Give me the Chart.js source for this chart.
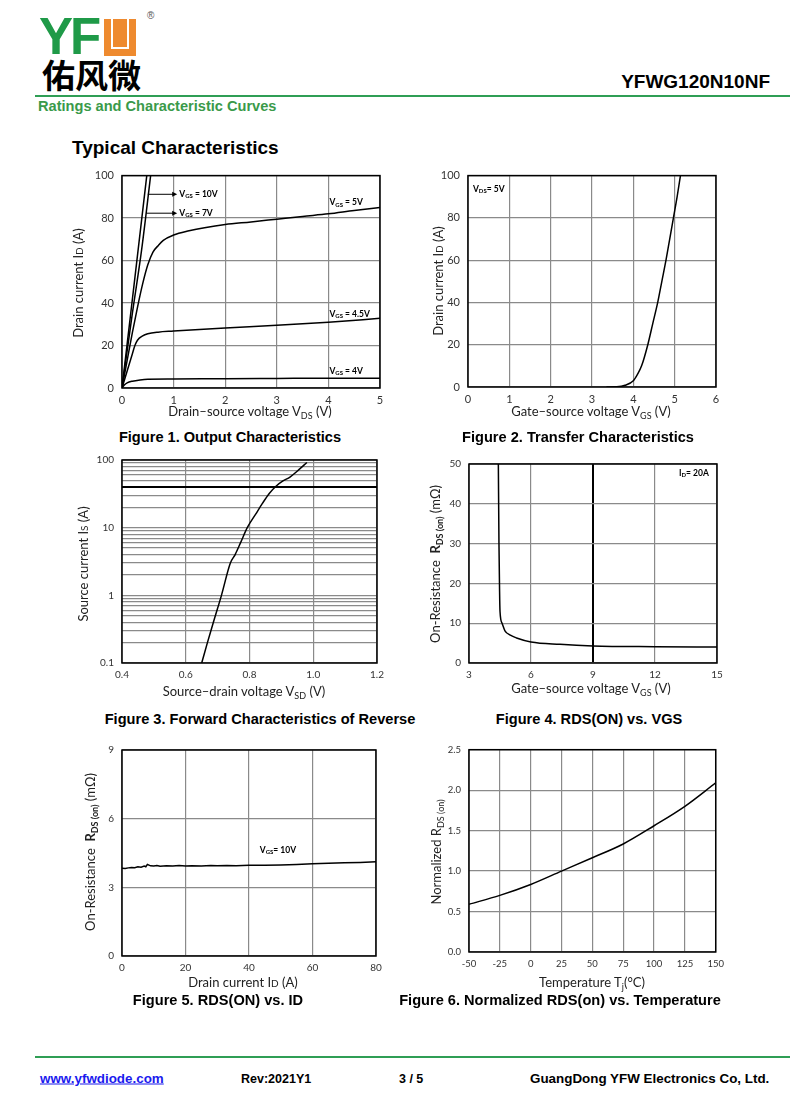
<!DOCTYPE html>
<html>
<head>
<meta charset="utf-8">
<script src="https://cdn.jsdelivr.net/npm/chart.js@4.4.1/dist/chart.umd.min.js"></script>
<style>
  body { margin: 0; background: #fff; }
  #page { position: relative; width: 800px; height: 1118px; overflow: hidden; font-family: "Liberation Sans", Arial, sans-serif; color: #000; }
  .abs { position: absolute; white-space: nowrap; }
  canvas { position: absolute; }
  .cap { font-weight: bold; font-size: 14.6px; transform: translate(-50%, -50%); }
  .ax { font-family: Lato, "Open Sans", sans-serif; font-size: 13px; color: #222; transform: translate(-50%, -50%); }
  .ax.rot { transform: translate(-50%, -50%) rotate(-90deg); }
  .ax sub { font-size: 9px; vertical-align: -3px; line-height: 0; }
  .ax .sc { font-size: 10px; }
  .foot { font-weight: bold; font-size: 13.4px; transform: translateY(-50%); }
</style>
</head>
<body>
<div id="page">
  <!-- header -->
  <div class="abs" style="left:39px;top:11px;font:bold 51px 'Liberation Sans';color:#1f9a48;letter-spacing:-3px;line-height:52px">YF</div>
  <div class="abs" style="left:104px;top:19px;width:32px;height:37px;background:#ee8a2f"></div>
  <div class="abs" style="left:111px;top:19px;width:14px;height:28px;border:2px solid #fff;border-top:none"></div>
  <div class="abs" style="left:147px;top:10px;font-size:10px;color:#555">®</div>
  <div class="abs" style="left:42px;top:55px;font:bold 33px 'Noto Sans CJK SC';line-height:38px">佑风微</div>
  <div class="abs" style="right:30px;top:71px;font-weight:bold;font-size:19px">YFWG120N10NF</div>
  <div class="abs" style="left:35px;top:95px;width:755px;height:2px;background:#2f9e55"></div>
  <div class="abs" style="left:38px;top:98px;font-weight:bold;font-size:14.6px;color:#3a9a4a">Ratings and Characteristic Curves</div>
  <div class="abs" style="left:72px;top:137px;font-weight:bold;font-size:19px">Typical Characteristics</div>

  <canvas id="fig1"></canvas>
  <canvas id="fig2"></canvas>
  <canvas id="fig3"></canvas>
  <canvas id="fig4"></canvas>
  <canvas id="fig5"></canvas>
  <canvas id="fig6"></canvas>

  <!-- axis titles -->
  <div class="abs ax rot" style="left:78px;top:283px">Drain current I<span class="sc">D</span> (A)</div>
  <div class="abs ax" style="left:250px;top:411px">Drain–source voltage V<sub>DS</sub> (V)</div>
  <div class="abs ax rot" style="left:438px;top:281px">Drain current I<span class="sc">D</span> (A)</div>
  <div class="abs ax" style="left:591px;top:411px">Gate–source voltage V<sub>GS</sub> (V)</div>
  <div class="abs ax rot" style="left:83px;top:564px">Source current I<span class="sc">S</span> (A)</div>
  <div class="abs ax" style="left:244px;top:691px">Source–drain voltage V<sub>SD</sub> (V)</div>
  <div class="abs ax rot" style="left:435px;top:564px">On-Resistance&nbsp; <b>R</b><sub><b>DS (on)</b></sub> (mΩ)</div>
  <div class="abs ax" style="left:591px;top:688px">Gate–source voltage V<sub>GS</sub> (V)</div>
  <div class="abs ax rot" style="left:90px;top:852px">On-Resistance&nbsp; <b>R</b><sub><b>DS (on)</b></sub> (mΩ)</div>
  <div class="abs ax" style="left:243px;top:982px">Drain current I<span class="sc">D</span> (A)</div>
  <div class="abs ax rot" style="left:436px;top:852px">Normalized R<sub>DS (on)</sub></div>
  <div class="abs ax" style="left:592px;top:982px">Temperature T<sub>j</sub>(°C)</div>

  <!-- captions -->
  <div class="abs cap" style="left:230px;top:437px">Figure 1. Output Characteristics</div>
  <div class="abs cap" style="left:578px;top:437px">Figure 2. Transfer Characteristics</div>
  <div class="abs cap" style="left:260px;top:719px">Figure 3. Forward Characteristics of Reverse</div>
  <div class="abs cap" style="left:589px;top:719px">Figure 4. RDS(ON) vs. VGS</div>
  <div class="abs cap" style="left:218px;top:1000px">Figure 5. RDS(ON) vs. ID</div>
  <div class="abs cap" style="left:560px;top:1000px">Figure 6. Normalized RDS(on) vs. Temperature</div>

  <!-- footer -->
  <div class="abs" style="left:35px;top:1056px;width:755px;height:2px;background:#2f9e55"></div>
  <div class="abs foot" style="left:40px;top:1078px;color:#1a1aee;text-decoration:underline">www.yfwdiode.com</div>
  <div class="abs foot" style="left:241px;top:1079px;font-size:12.5px">Rev:2021Y1</div>
  <div class="abs foot" style="left:399px;top:1079px;font-size:12.5px">3 / 5</div>
  <div class="abs foot" style="left:530px;top:1078px">GuangDong YFW Electronics Co, Ltd.</div>
</div>

<script>
// Figure 1 - output characteristics (VDS in V, ID in A)
const f1Vgs10V = [0, 0.25, 0.48];
const f1Vgs10I = [0, 52, 100];
const f1Vgs7V = [0, 0.2, 0.38, 0.555];
const f1Vgs7I = [0, 35, 65, 100];
const f1Vgs5V = [0, 0.1, 0.2, 0.3, 0.4, 0.5, 0.6, 0.7, 0.8, 1.0, 1.3, 1.6, 2, 2.5, 3, 3.5, 4, 4.5, 5];
const f1Vgs5I = [0, 13, 26, 38, 49, 58, 64, 67, 69.5, 72, 74, 75.5, 77, 78.2, 79.5, 80.8, 82, 83.6, 85];
const f1Vgs45V = [0, 0.1, 0.2, 0.25, 0.3, 0.4, 0.5, 0.7, 1, 1.5, 2, 3, 4, 5];
const f1Vgs45I = [0, 8, 16, 20, 22.5, 24.5, 25.5, 26.3, 26.8, 27.6, 28.3, 29.5, 31, 32.8];
const f1Vgs4V = [0, 0.05, 0.1, 0.2, 0.35, 0.5, 1, 2, 3, 4, 5];
const f1Vgs4I = [0, 1.5, 2.4, 3.2, 3.8, 4.1, 4.2, 4.4, 4.5, 4.6, 4.6];
const f1XTicks = [0, 1, 2, 3, 4, 5];
const f1YTicks = [0, 20, 40, 60, 80, 100];

// Figure 2 - transfer characteristics (VGS in V, ID in A)
const f2Vgs = [3.35, 3.6, 3.8, 4.0, 4.1, 4.2, 4.35, 4.47, 4.59, 4.69, 4.79, 4.88, 4.97, 5.06, 5.14];
const f2Id = [0, 0.1, 0.8, 3, 6, 10, 20, 30, 40, 50, 60, 70, 80, 90, 100];
const f2XTicks = [0, 1, 2, 3, 4, 5, 6];
const f2YTicks = [0, 20, 40, 60, 80, 100];

// Figure 3 - body diode forward (VSD in V, IS in A, log)
const f3Vsd = [0.65, 0.668, 0.69, 0.712, 0.74, 0.755, 0.772, 0.793, 0.82, 0.841, 0.862, 0.883, 0.905, 0.927, 0.955, 0.98];
const f3Is = [0.1, 0.2, 0.45, 1, 3, 4, 6, 10, 16, 23, 32, 41, 49, 56, 72, 92];
const f3XTicks = [0.4, 0.6, 0.8, 1.0, 1.2];
const f3YLabels = [0.1, 1, 10, 100];

// Figure 4 - RDS(on) vs VGS (V, mOhm)
const f4Vgs = [4.42, 4.45, 4.48, 4.5, 4.6, 4.74, 5.0, 5.3, 6.0, 7.4, 9, 12, 15];
const f4Rds = [50, 30, 18, 13, 10, 8.1, 7, 6.3, 5.3, 4.7, 4.3, 4.1, 4.0];
const f4XTicks = [3, 6, 9, 12, 15];
const f4YTicks = [0, 10, 20, 30, 40, 50];

// Figure 5 - RDS(on) vs ID (A, mOhm)
const f5Id = [0, 1, 2, 3, 4, 5, 6, 7, 7.5, 8, 8.5, 9, 10, 11, 12, 14, 16, 18, 20, 22, 25, 28, 30, 33, 36, 40, 45, 50, 55, 60, 65, 70, 75, 80];
const f5Rds = [3.83, 3.82, 3.85, 3.87, 3.86, 3.9, 3.88, 3.93, 3.9, 4.0, 3.97, 3.94, 3.93, 3.95, 3.92, 3.94, 3.93, 3.95, 3.93, 3.94, 3.93, 3.95, 3.94, 3.95, 3.94, 3.96, 3.97, 3.98, 4.0, 4.03, 4.05, 4.07, 4.09, 4.12];
const f5XTicks = [0, 20, 40, 60, 80];
const f5YTicks = [0, 3, 6, 9];

// Figure 6 - normalized RDS(on) vs Tj
const f6Temp = [-50, -25, 0, 25, 50, 75, 100, 125, 150];
const f6Norm = [0.59, 0.70, 0.835, 1.0, 1.165, 1.335, 1.56, 1.8, 2.09];
const f6XTicks = [-50, -25, 0, 25, 50, 75, 100, 125, 150];
const f6YTicks = [0, 0.5, 1.0, 1.5, 2.0, 2.5];

const GRID = "#8a8a8a";
const TICK = "#333";
Chart.defaults.font.family = "Lato, 'Open Sans', sans-serif";
Chart.defaults.animation = false;

function pts(xs, ys) {
  return xs.map((x, i) => ({ x: x, y: ys[i] }));
}

function curve(xs, ys, extra) {
  return Object.assign({
    data: pts(xs, ys),
    showLine: true,
    borderColor: "#000",
    borderWidth: 1.5,
    pointRadius: 0,
    cubicInterpolationMode: "monotone"
  }, extra || {});
}

// black frame round the plot area
const framePlugin = {
  id: "frame",
  beforeDatasetsDraw(chart) {
    const a = chart.chartArea, ctx = chart.ctx;
    ctx.save();
    ctx.strokeStyle = "#000";
    ctx.lineWidth = 1.5;
    ctx.strokeRect(a.left, a.top, a.right - a.left, a.bottom - a.top);
    ctx.restore();
  }
};

// small bold labels like "VGS = 5V", placed in data units
const notesPlugin = {
  id: "notes",
  afterDatasetsDraw(chart, args, opts) {
    const ctx = chart.ctx, xs = chart.scales.x, ys = chart.scales.y;
    ctx.save();
    (opts.arrows || []).forEach(a => {
      const x1 = xs.getPixelForValue(a.x1), x2 = xs.getPixelForValue(a.x2), y = ys.getPixelForValue(a.y);
      ctx.strokeStyle = "#000";
      ctx.fillStyle = "#000";
      ctx.lineWidth = 1;
      ctx.beginPath();
      ctx.moveTo(x1, y);
      ctx.lineTo(x2 - 3, y);
      ctx.stroke();
      ctx.beginPath();
      ctx.moveTo(x2, y);
      ctx.lineTo(x2 - 5, y - 2.5);
      ctx.lineTo(x2 - 5, y + 2.5);
      ctx.closePath();
      ctx.fill();
    });
    (opts.items || []).forEach(n => {
      let x = xs.getPixelForValue(n.x);
      const y = ys.getPixelForValue(n.y);
      ctx.fillStyle = "#000";
      ctx.textBaseline = "middle";
      ctx.textAlign = "left";
      n.parts.forEach(p => {
        const sub = p[1] === "sub";
        ctx.font = "bold " + (sub ? 6 : 8.5) + "px Lato, sans-serif";
        ctx.fillText(p[0], x, sub ? y + 2 : y);
        x += ctx.measureText(p[0]).width;
      });
    });
    ctx.restore();
  }
};

const PAD_L = 46, PAD_T = 8, PAD_R = 14, PAD_B = 22;

function plot(id, box, cfg) {
  const cv = document.getElementById(id);
  cv.width = box.w + PAD_L + PAD_R;
  cv.height = box.h + PAD_T + PAD_B;
  cv.style.left = (box.x - PAD_L) + "px";
  cv.style.top = (box.y - PAD_T) + "px";
  cv.style.width = cv.width + "px";
  cv.style.height = cv.height + "px";
  const fs = cfg.fontSize || 10;
  new Chart(cv, {
    type: "scatter",
    data: { datasets: cfg.datasets },
    options: {
      responsive: false,
      layout: { padding: { left: 0, top: PAD_T, right: PAD_R, bottom: 0 } },
      plugins: { legend: { display: false }, tooltip: { enabled: false }, notes: cfg.notes || {} },
      scales: {
        x: {
          type: "linear",
          min: cfg.xMin, max: cfg.xMax,
          afterFit: s => { s.height = PAD_B; },
          afterBuildTicks: s => { s.ticks = cfg.xTicks.map(v => ({ value: v })); },
          ticks: {
            color: TICK, font: { size: fs }, padding: 6, maxRotation: 0, autoSkip: false,
            callback: cfg.xFmt || (v => String(v))
          },
          grid: { color: cfg.xGridColor || GRID, lineWidth: cfg.xGridWidth || 1.2, drawTicks: false },
          border: { display: false }
        },
        y: {
          type: cfg.yType || "linear",
          min: cfg.yMin, max: cfg.yMax,
          afterFit: s => { s.width = PAD_L; },
          afterBuildTicks: s => { s.ticks = cfg.yTicks.map(v => ({ value: v })); },
          ticks: {
            color: TICK, font: { size: fs }, padding: 8, autoSkip: false,
            callback: cfg.yFmt || (v => String(v))
          },
          grid: { color: cfg.yGridColor || GRID, lineWidth: cfg.yGridWidth || 1.2, drawTicks: false },
          border: { display: false }
        }
      }
    },
    plugins: [framePlugin, notesPlugin]
  });
}

const vgs = (val) => [["V", ""], ["GS", "sub"], [val, ""]];

plot("fig1", { x: 122, y: 169, w: 258, h: 219 }, {
  xMin: 0, xMax: 5, yMin: 0, yMax: 100, xTicks: f1XTicks, yTicks: f1YTicks, fontSize: 11,
  datasets: [
    curve(f1Vgs10V, f1Vgs10I, { cubicInterpolationMode: "default" }),
    curve(f1Vgs7V, f1Vgs7I),
    curve(f1Vgs5V, f1Vgs5I),
    curve(f1Vgs45V, f1Vgs45I),
    curve(f1Vgs4V, f1Vgs4I)
  ],
  notes: {
    arrows: [{ x1: 0.5, x2: 1.07, y: 91.2 }, { x1: 0.47, x2: 1.07, y: 82.3 }],
    items: [
      { x: 1.11, y: 91.2, parts: vgs(" = 10V") },
      { x: 1.11, y: 82.3, parts: vgs(" = 7V") },
      { x: 4.02, y: 87.3, parts: vgs(" = 5V") },
      { x: 4.02, y: 34.8, parts: vgs(" = 4.5V") },
      { x: 4.02, y: 7.8, parts: vgs(" = 4V") }
    ]
  }
});

plot("fig2", { x: 468, y: 169, w: 248, h: 218 }, {
  xMin: 0, xMax: 6, yMin: 0, yMax: 100, xTicks: f2XTicks, yTicks: f2YTicks, fontSize: 11,
  datasets: [curve(f2Vgs, f2Id)],
  notes: { items: [{ x: 0.12, y: 93.6, parts: [["V", ""], ["DS", "sub"], ["= 5V", ""]] }] }
});

const f3Grid = [];
[0.1, 1, 10].forEach(d => { for (let k = 1; k < 10; k++) f3Grid.push(+(d * k).toPrecision(2)); });
f3Grid.push(100);

plot("fig3", { x: 122, y: 454, w: 255, h: 209 }, {
  xMin: 0.4, xMax: 1.2, yType: "logarithmic", yMin: 0.1, yMax: 100,
  xTicks: f3XTicks, yTicks: f3Grid,
  xFmt: v => v.toFixed(1),
  yFmt: v => (f3YLabels.indexOf(v) >= 0 ? String(v) : ""),
  yGridColor: c => (c.tick && c.tick.value === 40 ? "#000" : GRID),
  yGridWidth: c => (c.tick && c.tick.value === 40 ? 2 : 1.2),
  datasets: [curve(f3Vsd, f3Is)]
});

plot("fig4", { x: 469, y: 458, w: 248, h: 205 }, {
  xMin: 3, xMax: 15, yMin: 0, yMax: 50, xTicks: f4XTicks, yTicks: f4YTicks,
  xGridColor: c => (c.tick && c.tick.value === 9 ? "#000" : GRID),
  xGridWidth: c => (c.tick && c.tick.value === 9 ? 2 : 1.2),
  datasets: [curve(f4Vgs, f4Rds)],
  notes: { items: [{ x: 13.16, y: 47.6, parts: [["I", ""], ["D", "sub"], ["= 20A", ""]] }] }
});

plot("fig5", { x: 122, y: 744, w: 254, h: 212 }, {
  xMin: 0, xMax: 80, yMin: 0, yMax: 9, xTicks: f5XTicks, yTicks: f5YTicks,
  datasets: [curve(f5Id, f5Rds, { cubicInterpolationMode: "default", tension: 0 })],
  notes: { items: [{ x: 43.4, y: 4.61, parts: vgs("= 10V") }] }
});

plot("fig6", { x: 469, y: 744, w: 247, h: 208 }, {
  xMin: -50, xMax: 150, yMin: 0, yMax: 2.5, xTicks: f6XTicks, yTicks: f6YTicks, fontSize: 9.5,
  yFmt: v => v.toFixed(1),
  datasets: [curve(f6Temp, f6Norm)]
});
</script>
</body>
</html>
